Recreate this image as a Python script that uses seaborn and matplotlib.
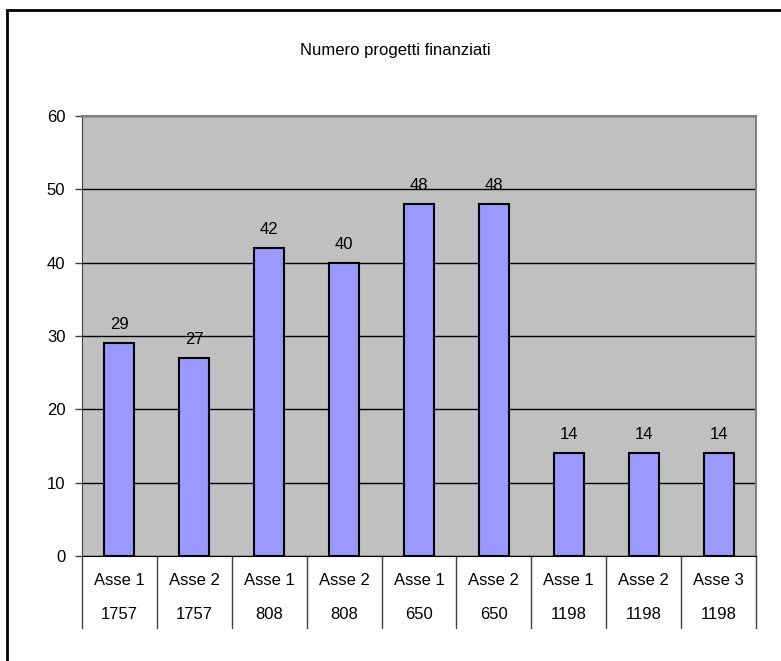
import numpy as np
import pandas as pd
import matplotlib
matplotlib.use('Agg')
import matplotlib.pyplot as plt
import matplotlib.transforms as mtransforms
from matplotlib.patches import Rectangle
import seaborn as sns

# --- data ---
assi = ['Asse 1', 'Asse 2', 'Asse 1', 'Asse 2', 'Asse 1', 'Asse 2', 'Asse 1', 'Asse 2', 'Asse 3']
bandi = ['1757', '1757', '808', '808', '650', '650', '1198', '1198', '1198']
progetti = [29, 27, 42, 40, 48, 48, 14, 14, 14]

title = 'Numero progetti finanziati'

df = pd.DataFrame({'pos': range(len(progetti)), 'progetti': progetti})

sns.set_style('white')
plt.rcParams['font.family'] = ['Liberation Sans', 'DejaVu Sans']
plt.rcParams['text.color'] = 'black'
plt.rcParams['ytick.labelcolor'] = 'black'
fs = 12

fig = plt.figure(figsize=(7.81, 6.61), dpi=100)
ax = fig.add_axes([82 / 781, 1 - 556 / 661, (756 - 82) / 781, (556 - 116) / 661])
ax.set_facecolor('#C0C0C0')

sns.barplot(data=df, x='pos', y='progetti', color='#9999FF', width=0.4,
            edgecolor='black', linewidth=1.5, saturation=1, ax=ax, zorder=3)

ax.set_ylim(0, 60)
ax.set_yticks(range(0, 61, 10))
ax.set_xlim(-0.5, len(progetti) - 0.5)
ax.yaxis.grid(True, color='black', linewidth=1, zorder=0)
ax.set_axisbelow(True)
ax.tick_params(axis='y', length=5, width=1, color='#404040', pad=7,
               labelsize=fs, labelcolor='black', left=True)
ax.set_xticks([])
ax.set_xlabel('')
ax.set_ylabel('')

for side in ['top', 'right']:
    ax.spines[side].set_color('#808080')
    ax.spines[side].set_linewidth(1.5)
ax.spines['left'].set_color('#404040')
ax.spines['bottom'].set_color('black')
for sp in ax.spines.values():
    sp.set_visible(True)

ax.bar_label(ax.containers[0], padding=8, fontsize=fs, color='black')

# two-level category axis
trans = mtransforms.blended_transform_factory(ax.transData, ax.transAxes)
for i in range(len(progetti)):
    ax.text(i, -0.055, assi[i], transform=trans, ha='center', va='center', fontsize=fs)
    ax.text(i, -0.132, bandi[i], transform=trans, ha='center', va='center', fontsize=fs)
for b in np.arange(-0.5, len(progetti), 1.0):
    ax.plot([b, b], [0, -72 / 440], transform=trans, color='#404040',
            linewidth=1, clip_on=False)

fig.text(395.5 / 781, 1 - 50 / 661, title, ha='center', va='center', fontsize=fs)

# outer chart border (cut off on right and bottom)
fig.patches.append(Rectangle((7 / 781, -0.1), 1.2, 1 - 10 / 661 + 0.1,
                             transform=fig.transFigure, fill=False,
                             edgecolor='black', linewidth=2))

fig.savefig('out.png', dpi=100)
